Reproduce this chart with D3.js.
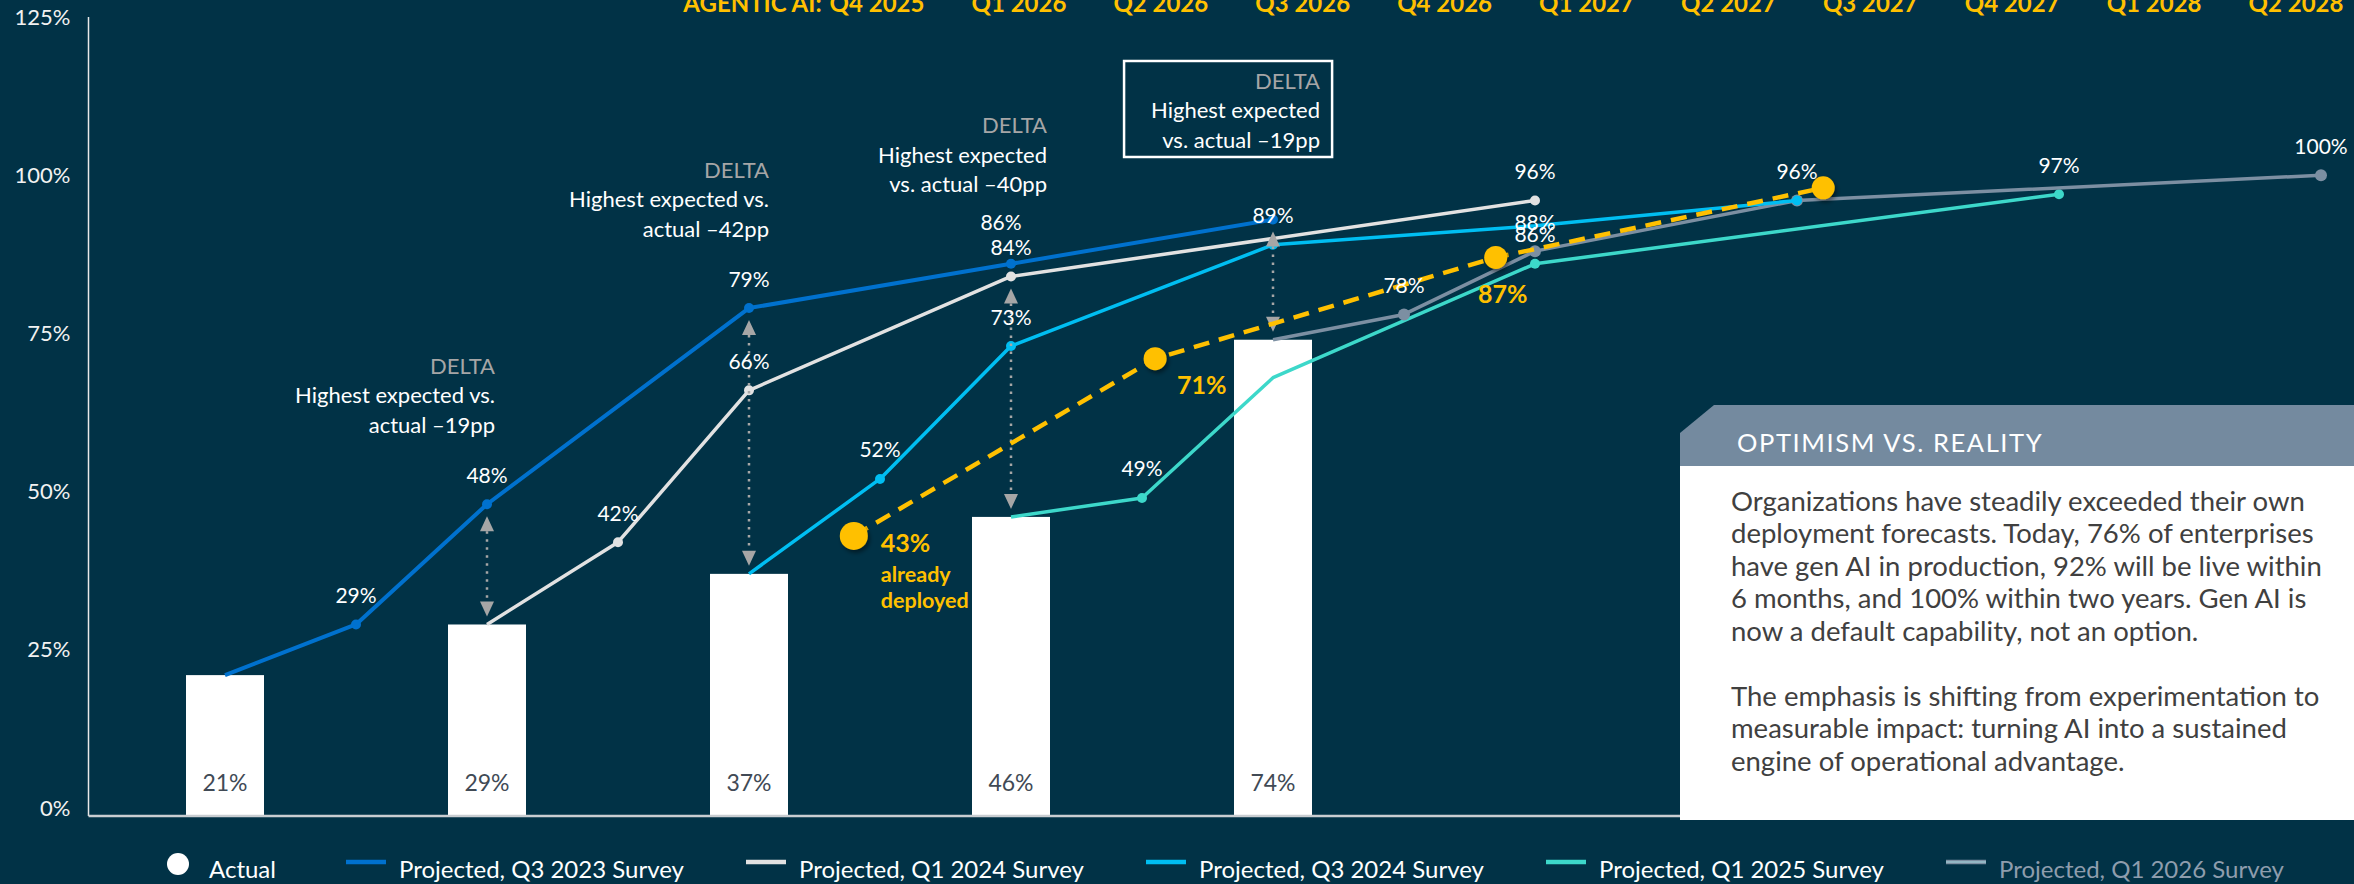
<!DOCTYPE html>
<html>
<head>
<meta charset="utf-8">
<script src="https://cdn.jsdelivr.net/npm/d3@7"></script>
<style>
  html, body { margin: 0; padding: 0; background: #013246; }
  svg { display: block; }
  text { font-family: Lato, "Open Sans", "Liberation Sans", sans-serif; }
</style>
</head>
<body>
<svg id="chart" width="2354" height="884"></svg>
<script>
// ---------------- data ----------------
// Survey timeline: period index 0..16 along the horizontal axis
const yTicks = [0, 25, 50, 75, 100, 125];

// Actual gen AI deployment at each survey
const actualPeriods = [0, 2, 4, 6, 8];
const actualValues  = [21, 29, 37, 46, 74];

const seriesNames = [
  "Projected, Q3 2023 Survey",
  "Projected, Q1 2024 Survey",
  "Projected, Q3 2024 Survey",
  "Projected, Q1 2025 Survey",
  "Projected, Q1 2026 Survey"
];

// Projections per survey (first point = actual at survey time)
// marks: 0 = plain vertex, 1 = marker, 2 = marker + value label
const q3_2023Periods = [0, 1, 2, 4, 6, 8];
const q3_2023Values  = [21, 29, 48, 79, 86, 93];
const q3_2023Marks   = [0, 2, 2, 2, 2, 1];

const q1_2024Periods = [2, 3, 4, 6, 10];
const q1_2024Values  = [29, 42, 66, 84, 96];
const q1_2024Marks   = [0, 2, 2, 2, 2];

const q3_2024Periods = [4, 5, 6, 8, 10, 12];
const q3_2024Values  = [37, 52, 73, 89, 92, 96];
const q3_2024Marks   = [0, 2, 2, 2, 0, 1];

const q1_2025Periods = [6, 7, 8, 10, 14];
const q1_2025Values  = [46, 49, 68, 86, 97];
const q1_2025Marks   = [0, 2, 0, 2, 2];

const q1_2026Periods = [8, 9, 10, 12, 16];
const q1_2026Values  = [74, 78, 88, 96, 100];
const q1_2026Marks   = [0, 2, 2, 2, 2];

// Agentic AI deployment trajectory
const agenticPeriods  = [4.8, 7.1, 9.7, 12.2];
const agenticValues   = [43, 71, 87, 98];
const agenticLabelled = [1, 1, 1, 0];
const agenticQuarters = ["Q4 2025", "Q1 2026", "Q2 2026", "Q3 2026", "Q4 2026",
                         "Q1 2027", "Q2 2027", "Q3 2027", "Q4 2027", "Q1 2028", "Q2 2028"];
const agenticPrefix = "AGENTIC AI:";

// Gap call-outs between the highest projection and the actual
const deltaPeriods = [2, 4, 6, 8];

const panelTitle = "OPTIMISM VS. REALITY";
const panelLines = [
  "Organizations have steadily exceeded their own",
  "deployment forecasts. Today, 76% of enterprises",
  "have gen AI in production, 92% will be live within",
  "6 months, and 100% within two years. Gen AI is",
  "now a default capability, not an option.",
  "",
  "The emphasis is shifting from experimentation to",
  "measurable impact: turning AI into a sustained",
  "engine of operational advantage."
];

// ---------------- styles ----------------
const BG = "#013246";
const seriesColors = ["#0071CE", "#E2E2E2", "#00BEF2", "#3DD8CA", "#7C8FA2"];
const YELLOW = "#FFC000";
const ARROW = "#A6A6A6";

// ---------------- layout ----------------
const W = 2354, H = 884;
const x = d3.scaleLinear().domain([0, 16]).range([225, 2321]);
const y = d3.scaleLinear().domain([0, 125]).range([808, 17]);
const baseY = y(0) + 8;          // horizontal axis line sits just under the 0% tick
const axisX = 88.5;
const qx = d3.scalePoint().domain(agenticQuarters).range([877, 2296]);

const svg = d3.select("#chart");
svg.append("rect").attr("width", W).attr("height", H).attr("fill", BG);

const defs = svg.append("defs");
const shadow = defs.append("filter").attr("id", "dotShadow")
  .attr("x", "-50%").attr("y", "-50%").attr("width", "200%").attr("height", "200%");
shadow.append("feDropShadow").attr("dx", 2).attr("dy", 3).attr("stdDeviation", 2)
  .attr("flood-color", "#000").attr("flood-opacity", 0.45);

// ---------- top quarter labels ----------
const topG = svg.append("g").attr("font-weight", 700).attr("font-size", 24).attr("fill", YELLOW);
topG.selectAll("text.q").data(agenticQuarters).join("text")
  .attr("class", "q")
  .attr("x", d => qx(d)).attr("y", 12)
  .attr("text-anchor", "middle")
  .text(d => d);
const firstQ = topG.select("text.q").node().getComputedTextLength();
topG.append("text")
  .attr("x", qx(agenticQuarters[0]) - firstQ / 2 - 8).attr("y", 12)
  .attr("text-anchor", "end")
  .text(agenticPrefix);

// ---------- y axis ----------
const yAxis = d3.axisLeft(y).tickValues(yTicks).tickFormat(d => d + "%").tickSize(0).tickPadding(18);
const yG = svg.append("g").attr("transform", `translate(${axisX},0)`).call(yAxis);
yG.select(".domain").remove();
yG.selectAll("text").attr("font-size", 22).attr("fill", "#F2F2F2")
  .style("font-family", "Lato, 'Open Sans', sans-serif");
svg.append("line").attr("x1", axisX).attr("x2", axisX).attr("y1", y(125)).attr("y2", baseY)
  .attr("stroke", "#E8E8E8").attr("stroke-width", 1.5);

// ---------- bars (actual) ----------
const barW = 78;
const bars = actualPeriods.map((p, i) => ({ p, v: actualValues[i] }));
svg.append("g").selectAll("rect").data(bars).join("rect")
  .attr("x", d => x(d.p) - barW / 2).attr("width", barW)
  .attr("y", d => y(d.v)).attr("height", d => baseY - y(d.v))
  .attr("fill", "#FFFFFF");
svg.append("g").selectAll("text").data(bars).join("text")
  .attr("x", d => x(d.p)).attr("y", baseY - 34)
  .attr("text-anchor", "middle").attr("dominant-baseline", "central")
  .attr("font-size", 23).attr("fill", "#414A55")
  .text(d => d.v + "%");

// x axis line
svg.append("line").attr("x1", axisX).attr("x2", 1680).attr("y1", baseY).attr("y2", baseY)
  .attr("stroke", "#C9CDD1").attr("stroke-width", 2.5);

// ---------- projection lines ----------
function build(periods, values, marks) {
  return periods.map((p, i) => ({ p, v: values[i], m: marks[i], first: i === 0 }));
}
const series = [
  { name: seriesNames[0], color: seriesColors[0], w: 4,   r: 5, pts: build(q3_2023Periods, q3_2023Values, q3_2023Marks) },
  { name: seriesNames[1], color: seriesColors[1], w: 3.5, r: 5, pts: build(q1_2024Periods, q1_2024Values, q1_2024Marks) },
  { name: seriesNames[2], color: seriesColors[2], w: 3.5, r: 5, pts: build(q3_2024Periods, q3_2024Values, q3_2024Marks) },
  { name: seriesNames[3], color: seriesColors[3], w: 3.5, r: 5, pts: build(q1_2025Periods, q1_2025Values, q1_2025Marks) },
  { name: seriesNames[4], color: seriesColors[4], w: 3.5, r: 6, pts: build(q1_2026Periods, q1_2026Values, q1_2026Marks) }
];
const drawOrder = [3, 4, 1, 0, 2];
const line = d3.line().x(d => x(d.p)).y(d => y(d.v));

const linesG = svg.append("g");
drawOrder.forEach(i => {
  const s = series[i];
  const g = linesG.append("g");
  g.append("path").attr("d", line(s.pts)).attr("fill", "none")
    .attr("stroke", s.color).attr("stroke-width", s.w)
    .attr("stroke-linejoin", "round").attr("stroke-linecap", "butt");
  g.selectAll("circle").data(s.pts.filter(d => d.m > 0)).join("circle")
    .attr("cx", d => x(d.p)).attr("cy", d => y(d.v)).attr("r", s.r)
    .attr("fill", s.color);
});

// ---------- delta call-outs ----------
const deltaTextDx   = [8, 20, 36, 47];
const deltaVsFirst  = [true, true, false, false];
const deltaBoxed    = [false, false, false, true];
const deltaG = svg.append("g");
deltaPeriods.forEach((k, i) => {
  const proj = [];
  series.forEach(s => s.pts.forEach(d => { if (!d.first && d.p === k) proj.push(d.v); }));
  proj.sort((a, b) => b - a);
  const high = proj[0];
  const actual = actualValues[actualPeriods.indexOf(k)];
  const fromV = (proj.length > 1 && high - proj[1] <= 3) ? proj[1] : high;
  const xk = x(k);
  const top = y(fromV) + 12, bot = y(actual) - 8, th = 15, tw = 7;
  deltaG.append("line").attr("x1", xk).attr("x2", xk).attr("y1", top + th).attr("y2", bot - th)
    .attr("stroke", ARROW).attr("stroke-width", 2.5).attr("stroke-dasharray", "2.5 5.5");
  deltaG.append("path").attr("d", `M${xk},${top}L${xk - tw},${top + th}L${xk + tw},${top + th}Z`).attr("fill", ARROW);
  deltaG.append("path").attr("d", `M${xk},${bot}L${xk - tw},${bot - th}L${xk + tw},${bot - th}Z`).attr("fill", ARROW);

  const gap = high - actual;
  const lines = deltaVsFirst[i]
    ? ["DELTA", "Highest expected vs.", `actual \u2013${gap}pp`]
    : ["DELTA", "Highest expected", `vs. actual \u2013${gap}pp`];
  const tx = xk + deltaTextDx[i];
  const ty = y(high) - 139;
  const tg = deltaG.append("g");
  tg.selectAll("text").data(lines).join("text")
    .attr("x", tx).attr("y", (d, j) => ty + j * 29.5)
    .attr("text-anchor", "end").attr("dominant-baseline", "central")
    .attr("font-size", 22)
    .attr("fill", (d, j) => j === 0 ? ARROW : "#FFFFFF")
    .text(d => d);
  if (deltaBoxed[i]) {
    const bb = tg.node().getBBox();
    tg.insert("rect", "text")
      .attr("x", bb.x - 27).attr("y", bb.y - 6)
      .attr("width", bb.width + 39).attr("height", bb.height + 10)
      .attr("fill", "none").attr("stroke", "#FFFFFF").attr("stroke-width", 2.5);
  }
});

// ---------- agentic AI trajectory ----------
const agentic = agenticPeriods.map((p, i) => ({ p, v: agenticValues[i], lab: agenticLabelled[i], i }));
svg.append("path").attr("d", line(agentic)).attr("fill", "none")
  .attr("stroke", YELLOW).attr("stroke-width", 4.5).attr("stroke-dasharray", "16 10");
svg.append("g").selectAll("circle").data(agentic).join("circle")
  .attr("cx", d => x(d.p)).attr("cy", d => y(d.v))
  .attr("r", d => d.i === 0 ? 14 : 11.5)
  .attr("fill", YELLOW).attr("filter", "url(#dotShadow)");

// ---------- data labels ----------
const labelNudge = { "0-6": [-10, -12] };
const labG = svg.append("g").attr("font-size", 21).attr("fill", "#FFFFFF");
series.forEach((s, si) => {
  s.pts.filter(d => d.m === 2).forEach(d => {
    const n = labelNudge[si + "-" + d.p] || [0, 0];
    labG.append("text")
      .attr("x", x(d.p) + n[0]).attr("y", y(d.v) - 30 + n[1])
      .attr("text-anchor", "middle").attr("dominant-baseline", "central")
      .text(d.v + "%");
  });
});

// agentic labels
const agG = svg.append("g").attr("fill", YELLOW).attr("font-weight", 700);
agentic.filter(d => d.lab).forEach(d => {
  const cx = x(d.p), cy = y(d.v);
  if (d.i === 0) {
    agG.append("text").attr("x", cx + 27).attr("y", cy + 6).attr("dominant-baseline", "central")
      .attr("font-size", 25).text(d.v + "%");
    agG.append("text").attr("x", cx + 27).attr("y", cy + 38).attr("dominant-baseline", "central")
      .attr("font-size", 21.5).text("already");
    agG.append("text").attr("x", cx + 27).attr("y", cy + 64).attr("dominant-baseline", "central")
      .attr("font-size", 21.5).text("deployed");
  } else if (d.i === 1) {
    agG.append("text").attr("x", cx + 22).attr("y", cy + 25).attr("dominant-baseline", "central")
      .attr("font-size", 25).text(d.v + "%");
  } else {
    agG.append("text").attr("x", cx + 7).attr("y", cy + 36).attr("text-anchor", "middle")
      .attr("dominant-baseline", "central").attr("font-size", 25).text(d.v + "%");
  }
});

// ---------- commentary panel ----------
const panel = svg.append("g");
panel.append("rect").attr("x", 1680).attr("y", 466).attr("width", W - 1680).attr("height", 354).attr("fill", "#FFFFFF");
panel.append("path").attr("d", "M1680,433L1714,405L2354,405L2354,466L1680,466Z").attr("fill", "#748A9F");
panel.append("text").attr("x", 1737).attr("y", 442).attr("dominant-baseline", "central")
  .attr("font-size", 25.5).attr("letter-spacing", 1.6).attr("fill", "#FFFFFF").text(panelTitle);
panel.append("g").selectAll("text").data(panelLines).join("text")
  .attr("x", 1731).attr("y", (d, i) => 500 + i * 32.5).attr("dominant-baseline", "central")
  .attr("font-size", 27.5).attr("fill", "#404040").text(d => d);

// ---------- legend ----------
const legY = 868;
const leg = svg.append("g").attr("font-size", 24);
leg.append("circle").attr("cx", 178).attr("cy", legY - 4).attr("r", 11).attr("fill", "#FFFFFF");
leg.append("text").attr("x", 209).attr("y", legY).attr("dominant-baseline", "central")
  .attr("fill", "#FFFFFF").text("Actual");
series.forEach((s, i) => {
  const lx = 346 + i * 400;
  leg.append("line").attr("x1", lx).attr("x2", lx + 40).attr("y1", legY - 6).attr("y2", legY - 6)
    .attr("stroke", s.color).attr("stroke-width", 4.5);
  if (i === 4) {
    leg.append("line").attr("x1", lx).attr("x2", lx + 40).attr("y1", legY - 6).attr("y2", legY - 6)
      .attr("stroke", "#A9DDE3").attr("stroke-width", 1.2);
  }
  leg.append("text").attr("x", lx + 53).attr("y", legY).attr("dominant-baseline", "central")
    .attr("fill", i === 4 ? "#8E9DAD" : "#FFFFFF").text(s.name);
});
</script>
</body>
</html>
